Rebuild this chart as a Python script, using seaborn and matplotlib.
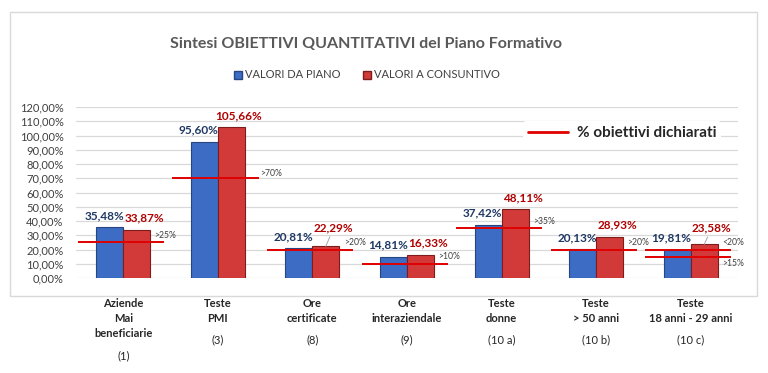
import matplotlib
matplotlib.use("Agg")
import matplotlib.pyplot as plt
import matplotlib.transforms as mtransforms
from matplotlib.patches import Rectangle, Patch
from matplotlib.lines import Line2D
import pandas as pd
import seaborn as sns

# data
categorie = ["Aziende\nMai\nbeneficiarie", "Teste\nPMI", "Ore\ncertificate",
             "Ore\ninteraziendale", "Teste\ndonne", "Teste\n> 50 anni",
             "Teste\n18 anni - 29 anni"]
riferimenti = ["(1)", "(3)", "(8)", "(9)", "(10 a)", "(10 b)", "(10 c)"]
valori_piano = [35.48, 95.60, 20.81, 14.81, 37.42, 20.13, 19.81]
valori_consuntivo = [33.87, 105.66, 22.29, 16.33, 48.11, 28.93, 23.58]

# declared targets (category index, value, label)
obiettivi_idx = [0, 1, 2, 3, 4, 5, 6, 6]
obiettivi_val = [25, 70, 20, 10, 35, 20, 20, 15]
obiettivi_lbl = [">25%", ">70%", ">20%", ">10%", ">35%", ">20%", "<20%", ">15%"]

serie = ["VALORI DA PIANO", "VALORI A CONSUNTIVO"]

df = pd.DataFrame({
    "cat": list(range(len(categorie))) * 2,
    "serie": [serie[0]] * len(categorie) + [serie[1]] * len(categorie),
    "val": valori_piano + valori_consuntivo,
})

BLU, ROSSO = "#3C6CC4", "#D23A3A"
BLU_EDGE, ROSSO_EDGE = "#27467F", "#7E1C1C"
BLU_TXT, ROSSO_TXT = "#1F3864", "#B00000"

sns.set_theme(style="white")
plt.rcParams["font.family"] = ["Lato", "DejaVu Sans"]

W, H = 768, 373
fig = plt.figure(figsize=(W / 100, H / 100), dpi=100)
ax = fig.add_axes([76 / W, 1 - 278 / H, (738 - 76) / W, 171 / H])

sns.barplot(data=df, x="cat", y="val", hue="serie", hue_order=serie,
            palette=[BLU, ROSSO], width=0.57, ax=ax, legend=False,
            linewidth=0.8, saturation=1)
for cont, ec in zip(ax.containers, [BLU_EDGE, ROSSO_EDGE]):
    for bar in cont:
        bar.set_edgecolor(ec)

ax.set_xlim(-0.5, len(categorie) - 0.5)
ax.set_ylim(0, 120)
ax.set_yticks(range(0, 121, 10))
ax.set_yticklabels([f"{v:.2f}".replace(".", ",") + "%" for v in range(0, 121, 10)])
ax.tick_params(axis="y", length=0, pad=9, labelsize=8, labelcolor="#404040")
ax.set_xticks([])
ax.set_xlabel("")
ax.set_ylabel("")
ax.yaxis.grid(True, color="#D9D9D9", lw=0.9)
ax.set_axisbelow(True)
for s in ax.spines.values():
    s.set_visible(False)

# value labels
extra = {(1, 2): 4.5, (1, 6): 3}
shift = [-0.06, 0.08]
colori_txt = [BLU_TXT, ROSSO_TXT]
for k, cont in enumerate(ax.containers):
    for i, bar in enumerate(cont):
        xc = bar.get_x() + bar.get_width() / 2
        top = bar.get_height()
        txt = f"{top:.2f}".replace(".", ",") + "%"
        if (k, i) in extra:
            ax.annotate(txt, (xc, top), xytext=(xc + shift[k], top + 4.5 + extra[(k, i)]),
                        textcoords="data", ha="center", va="bottom",
                        fontsize=8.5, fontweight="bold", color=colori_txt[k],
                        arrowprops=dict(arrowstyle="-", color="#A6A6A6", lw=0.7,
                                        shrinkA=0, shrinkB=0))
        else:
            ax.text(xc + shift[k], top + 4.5, txt, ha="center", va="bottom",
                    fontsize=8.5, fontweight="bold", color=colori_txt[k])

# target lines
for i, v, lbl in zip(obiettivi_idx, obiettivi_val, obiettivi_lbl):
    ax.hlines(v, i - 0.48, i + 0.43, color="#E00000", lw=1.4, zorder=4)
    dy = -5 if lbl == ">15%" else (3.5 if v == 70 else 5)
    dx = 0.45 if v == 70 else 0.33
    ax.text(i + dx, v + dy, lbl, ha="left", va="center", fontsize=6.2,
            color="#404040", zorder=5)

# category labels below the chart box
trans = mtransforms.blended_transform_factory(ax.transData, fig.transFigure)
for i, (c, r) in enumerate(zip(categorie, riferimenti)):
    n = c.count("\n") + 1
    ax.text(i, 1 - 298 / H, c, transform=trans, ha="center", va="top",
            fontsize=8, fontweight="bold", color="#262626", linespacing=1.45)
    ax.text(i, 1 - (304 + (n - 1) * 16 + 20) / H, r, transform=trans,
            ha="center", va="center", fontsize=8, color="#262626")

# title
fig.text(0.476, 1 - 44 / H, "Sintesi OBIETTIVI QUANTITATIVI del Piano Formativo",
         ha="center", va="center", fontsize=11.5, fontweight="bold", color="#595959")

# series legend
fig.legend(handles=[Patch(facecolor=BLU, edgecolor=BLU_EDGE),
                    Patch(facecolor=ROSSO, edgecolor=ROSSO_EDGE)],
           labels=serie, loc="center", bbox_to_anchor=(0.478, 1 - 75 / H),
           ncol=2, frameon=False, fontsize=8, handlelength=0.7, handleheight=0.7,
           handletextpad=0.3, columnspacing=2.0, labelcolor="#404040")

# target legend
ax.legend(handles=[Line2D([0], [0], color="#E00000", lw=2)],
          labels=["% obiettivi dichiarati"], loc="center",
          bbox_to_anchor=(622 / W, 1 - 133 / H), bbox_transform=fig.transFigure,
          frameon=True, facecolor="white", edgecolor="none", framealpha=1,
          prop={"size": 11, "weight": "bold"}, handlelength=2.6,
          handletextpad=0.6, borderpad=0.3)

# chart border
fig.add_artist(Rectangle((10 / W, 1 - 296 / H), 747 / W, 284 / H,
                         transform=fig.transFigure, fill=False,
                         edgecolor="#D9D9D9", lw=1))

fig.savefig("out.png", dpi=100, facecolor="white")
